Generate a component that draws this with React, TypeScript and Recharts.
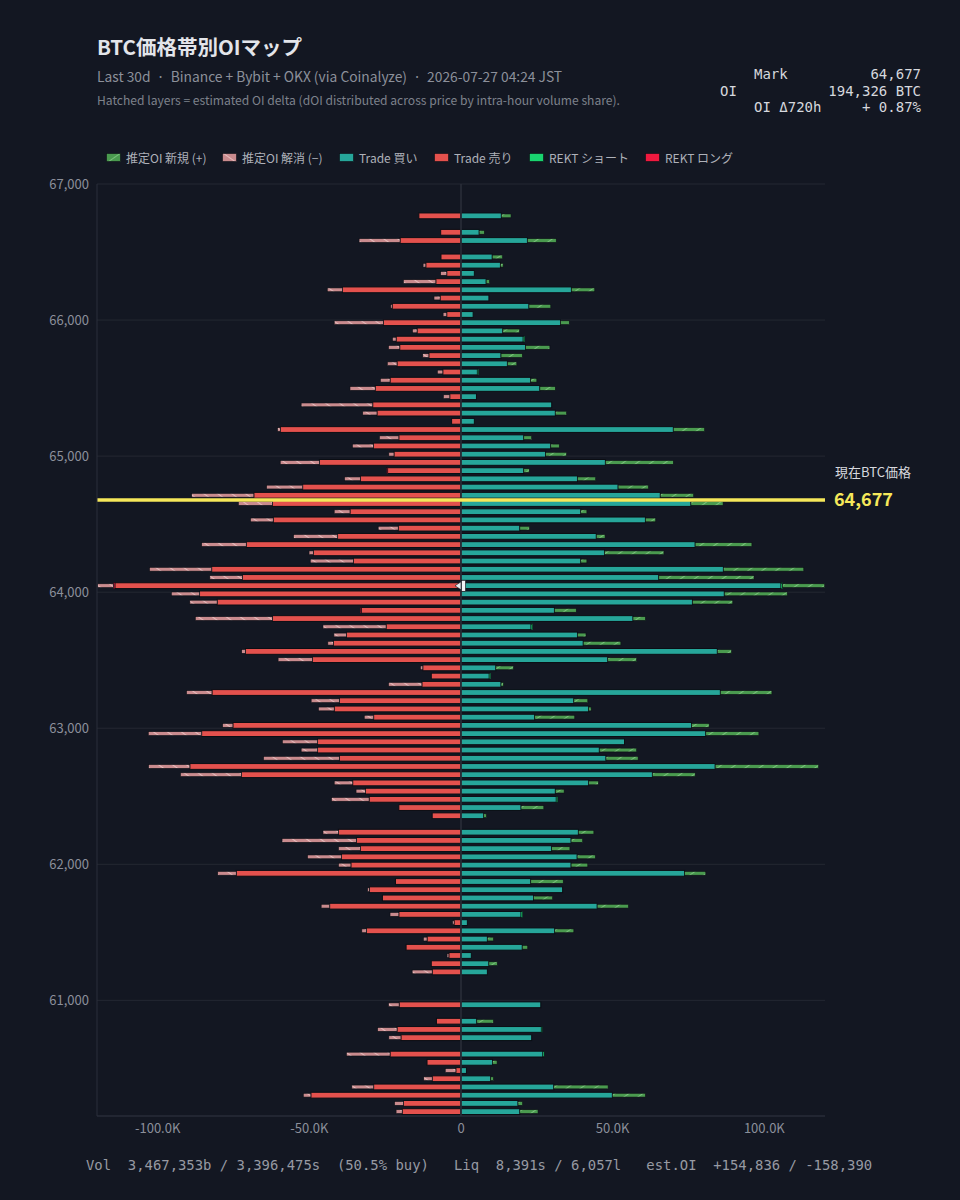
import React from 'react';
import { BarChart, Bar, XAxis, YAxis, CartesianGrid, ReferenceLine, ReferenceDot } from 'recharts';

// price bins, top row first
const PRICE_TOP = 66765;
const BIN_USD = 60.4;
const MARK_PRICE = 64677;
const POC_ROW = 45;

// per-bin volumes in thousands of BTC-equivalent units
const SELL_K = [
  13.9, 0, 6.7, 20.1, 0, 6.6, 11.6, 4.7, 8.3, 39.1,
  6.9, 22.7, 4.7, 25.6, 14.5, 21.4, 20.2, 10.6, 21.1, 6.0,
  23.4, 28.3, 3.7, 29.1, 27.7, 3.1, 59.6, 20.5, 28.9, 22.1,
  46.7, 24.2, 33.2, 52.2, 68.3, 62.2, 36.6, 61.9, 20.7, 40.7,
  70.8, 48.7, 35.5, 82.2, 72.1, 114.1, 86.2, 80.4, 32.9, 62.2,
  24.7, 37.8, 42.1, 71.1, 49.0, 12.6, 9.8, 12.9, 82.1, 40.1,
  41.8, 28.8, 75.2, 85.5, 47.3, 47.3, 40.1, 89.4, 72.4, 35.7,
  31.5, 30.3, 20.5, 9.5, 0, 40.4, 34.5, 33.2, 39.4, 36.3,
  74.1, 21.6, 30.2, 25.9, 43.3, 20.5, 2.3, 31.2, 11.2, 18.1,
  4.0, 9.8, 9.5, 0, 0, 0, 20.4, 0, 8.1, 21.1,
  19.8, 0, 23.4, 11.2, 1.7, 9.5, 28.8, 49.5, 19.0, 19.4,
];

const UNWIND_K = [
  0, 0, 0, 13.5, 0, 0, 0.9, 2.0, 10.7, 5.0,
  2.0, 0.5, 1.2, 16.2, 1.5, 1.2, 3.7, 2.0, 3.2, 1.8,
  3.2, 8.3, 2.1, 23.6, 4.7, 0, 0.9, 6.4, 6.9, 1.7,
  12.9, 0, 5.2, 11.9, 20.5, 11.2, 5.2, 7.5, 6.6, 14.5,
  14.7, 1.4, 14.2, 20.5, 10.7, 5.2, 9.3, 9.0, 0, 25.4,
  20.8, 4.1, 1.8, 1.2, 11.3, 0.8, 0, 11.0, 8.4, 9.3,
  5.2, 3.1, 3.4, 17.6, 11.6, 5.4, 25.0, 13.6, 20.1, 6.1,
  3.1, 12.4, 0, 0, 0, 5.1, 24.5, 7.2, 11.2, 4.1,
  6.1, 0, 0.6, 0, 2.8, 2.9, 0.5, 1.5, 1.2, 0,
  0.6, 0, 6.6, 0, 0, 0, 3.5, 0, 0, 6.4,
  4.0, 0, 14.4, 0, 3.5, 2.8, 7.2, 2.5, 2.9, 2.0,
];

const BUY_K = [
  13.3, 0, 6.0, 21.9, 0, 10.3, 13.0, 4.4, 8.3, 36.4,
  9.2, 22.4, 4.0, 32.8, 13.8, 20.5, 21.3, 13.2, 15.3, 5.4,
  23.0, 26.0, 5.1, 29.9, 31.1, 4.4, 70.0, 20.7, 29.6, 27.9,
  47.6, 20.7, 38.4, 51.8, 65.7, 75.8, 39.5, 60.8, 19.4, 44.6,
  77.2, 47.3, 39.5, 86.5, 65.2, 105.5, 86.8, 76.3, 30.8, 56.7,
  23.1, 38.4, 40.3, 84.5, 48.4, 11.5, 9.3, 13.2, 85.5, 37.2,
  42.1, 24.3, 76.0, 80.7, 53.9, 45.6, 47.8, 83.8, 63.1, 42.1,
  31.1, 31.4, 19.8, 7.5, 0, 38.7, 36.3, 29.9, 38.3, 36.3,
  73.7, 23.0, 33.5, 23.9, 44.9, 19.8, 2.1, 30.9, 8.7, 20.2,
  3.4, 9.2, 8.7, 0, 0, 0, 26.3, 0, 5.2, 26.5,
  23.3, 0, 27.0, 10.4, 1.8, 9.8, 30.6, 49.9, 18.8, 19.4,
];

const NEW_OI_K = [
  3.2, 0, 1.7, 9.5, 0, 3.4, 0.9, 0, 1.1, 7.7,
  0, 7.2, 0, 2.9, 5.5, 0, 8.0, 7.0, 3.1, 0,
  2.0, 5.1, 0, 0, 3.7, 0, 10.3, 2.6, 2.8, 6.9,
  22.4, 1.8, 6.0, 10.0, 11.0, 10.6, 2.0, 3.4, 3.2, 2.9,
  18.7, 19.6, 2.0, 26.5, 31.4, 13.9, 20.8, 13.3, 7.2, 4.1,
  0, 2.8, 12.4, 4.7, 9.5, 5.8, 0, 0.8, 17.0, 4.6,
  0.8, 13.2, 5.8, 17.5, 0, 12.3, 10.6, 34.1, 14.1, 3.2,
  2.9, 0, 7.5, 0.9, 0, 5.1, 3.8, 6.0, 6.0, 5.5,
  7.0, 10.7, 0, 6.3, 10.3, 0, 0, 6.3, 2.0, 1.8,
  0, 2.8, 0, 0, 0, 0, 0, 0, 5.5, 0,
  0, 0, 0, 1.5, 0, 0.9, 17.9, 10.9, 1.5, 6.0,
];

// liquidations, only the bins that have any
const REKT_SHORT_K: Record<number, number> = { 15: 0.5, 19: 0.4, 45: 0.5, 50: 0.5, 56: 0.5, 71: 0.5, 85: 0.5, 99: 0.3, 102: 0.4 };
const REKT_LONG_K: Record<number, number> = { 31: 0.3, 45: 0.5, 48: 0.3 };

const X_TICKS = [-100000, -50000, 0, 50000, 100000];
const Y_TICKS = [61000, 62000, 63000, 64000, 65000, 66000, 67000];

const C = {
  bg: '#131722',
  buy: '#26a69a',
  sell: '#e4514d',
  rektShort: '#19d46f',
  rektLong: '#f0193f',
  grid: '#242832',
  axis: '#2b2f3a',
  tick: '#8b8f9a',
  outline: '#0b0e14',
  mark: '#f6e85a',
};

const rows = SELL_K.map((s, i) => ({
  price: PRICE_TOP - i * BIN_USD,
  sell: -s * 1000,
  buy: BUY_K[i] * 1000,
  rektLong: -(REKT_LONG_K[i] ?? 0) * 1000,
  rektShort: (REKT_SHORT_K[i] ?? 0) * 1000,
  unwind: -UNWIND_K[i] * 1000,
  newOi: NEW_OI_K[i] * 1000,
}));

const LEGEND = [
  { label: '推定OI 新規 (+)', fill: 'url(#hatchNew)', x: 106 },
  { label: '推定OI 解消 (−)', fill: 'url(#hatchUnwind)', x: 222 },
  { label: 'Trade 買い', fill: C.buy, x: 339 },
  { label: 'Trade 売り', fill: C.sell, x: 434 },
  { label: 'REKT ショート', fill: C.rektShort, x: 529 },
  { label: 'REKT ロング', fill: C.rektLong, x: 645 },
];

const STATS = [
  { label: 'Mark', left: 754, value: '64,677' },
  { label: 'OI', left: 720, value: '194,326 BTC' },
  { label: 'OI Δ720h', left: 754, value: '+ 0.87%' },
];

const FOOTER = 'Vol  3,467,353b / 3,396,475s  (50.5% buy)   Liq  8,391s / 6,057l   est.OI  +154,836 / -158,390';

const SANS = "'Noto Sans CJK JP', 'Noto Sans', sans-serif";
const MONO = "'DejaVu Sans Mono', monospace";

// horizontal bar drawn as a centred strip of given thickness
const strip = (fill: string, thick: number, strokeW: number) => (p: any) => {
  const { x, y, width, height } = p;
  if (!width || Math.abs(width) < 0.01) return <g />;
  const x0 = width < 0 ? x + width : x;
  const w = Math.abs(width);
  const cy = y + height / 2;
  return (
    <rect x={x0} y={cy - thick / 2} width={w} height={thick} fill={fill} stroke={C.outline} strokeWidth={strokeW} />
  );
};

const fmtK = (v: number) => (v === 0 ? '0' : `${(v / 1000).toFixed(1)}K`);
const fmtPrice = (v: number) => v.toLocaleString('en-US');

function MarkLabel(props: any) {
  const vb = props.viewBox || {};
  const right = (vb.x ?? 0) + (vb.width ?? 0);
  const y = vb.y ?? 0;
  return (
    <g>
      <text x={right + 10} y={y - 23} fill="#d6d8de" fontSize={13} fontFamily={SANS}>
        現在BTC価格
      </text>
      <text x={right + 9} y={y + 6} fill={C.mark} fontSize={18} fontWeight={700} fontFamily={SANS}>
        {MARK_PRICE.toLocaleString('en-US')}
      </text>
    </g>
  );
}

const pocMarker = (p: any) => {
  const { cx, cy } = p;
  return (
    <g>
      <polygon
        points={`${cx - 6},${cy} ${cx},${cy - 4} ${cx},${cy + 4}`}
        fill="#e8eaee"
        stroke={C.outline}
        strokeWidth={0.6}
      />
      <rect x={cx + 0.5} y={cy - 5.5} width={4} height={11} fill="#f2f3f5" stroke={C.outline} strokeWidth={0.6} />
    </g>
  );
};

export default function App() {
  return (
    <div
      style={{
        position: 'absolute',
        left: 0,
        top: 0,
        width: 960,
        height: 1200,
        background: C.bg,
        fontFamily: SANS,
        overflow: 'hidden',
      }}
    >
      <svg width={0} height={0} style={{ position: 'absolute' }}>
        <defs>
          <pattern id="hatchNew" width="8" height="8" patternUnits="userSpaceOnUse" patternTransform="rotate(55)">
            <rect width="8" height="8" fill="#4a9a4f" />
            <line x1="0" y1="0" x2="0" y2="8" stroke="#8fd28f" strokeWidth="1.4" />
          </pattern>
          <pattern id="hatchUnwind" width="8" height="8" patternUnits="userSpaceOnUse" patternTransform="rotate(-55)">
            <rect width="8" height="8" fill="#c98b8e" />
            <line x1="0" y1="0" x2="0" y2="8" stroke="#f3d2d2" strokeWidth="1.4" />
          </pattern>
        </defs>
      </svg>

      <div style={{ position: 'absolute', left: 97, top: 33, fontSize: 20.5, fontWeight: 700, color: '#e3e5ea', lineHeight: '26px' }}>
        BTC価格帯別OIマップ
      </div>
      <div style={{ position: 'absolute', left: 97, top: 66, fontSize: 13.8, color: '#8c909a', lineHeight: '20px', whiteSpace: 'pre' }}>
        {'Last 30d  ·  Binance + Bybit + OKX (via Coinalyze)  ·  2026-07-27 04:24 JST'}
      </div>
      <div style={{ position: 'absolute', left: 97, top: 91, fontSize: 12.1, color: '#7e828c', lineHeight: '18px' }}>
        Hatched layers = estimated OI delta (dOI distributed across price by intra-hour volume share).
      </div>

      {STATS.map((s, i) => (
        <React.Fragment key={s.label}>
          <div style={{ position: 'absolute', left: s.left, top: 66 + i * 16.5, fontFamily: MONO, fontSize: 14, color: '#d6d8de', lineHeight: '17px' }}>
            {s.label}
          </div>
          <div style={{ position: 'absolute', right: 39, top: 66 + i * 16.5, fontFamily: MONO, fontSize: 14, color: '#d6d8de', lineHeight: '17px', whiteSpace: 'pre' }}>
            {s.value}
          </div>
        </React.Fragment>
      ))}

      {LEGEND.map((l) => (
        <div key={l.label} style={{ position: 'absolute', left: l.x, top: 149, height: 16, display: 'flex', alignItems: 'center' }}>
          <svg width={15} height={9} style={{ marginRight: 5 }}>
            <rect x={0.5} y={0.5} width={14} height={8} fill={l.fill} stroke={C.outline} strokeWidth={0.6} />
          </svg>
          <span style={{ fontSize: 12, color: '#aeb1b9', whiteSpace: 'pre' }}>{l.label}</span>
        </div>
      ))}

      <div style={{ position: 'absolute', left: 0, top: 0 }}>
        <BarChart
          width={960}
          height={1200}
          data={rows}
          layout="vertical"
          stackOffset="sign"
          barSize={8}
          margin={{ top: 184, right: 135, bottom: 54, left: 37 }}
        >
          <CartesianGrid horizontal vertical={false} stroke={C.grid} />
          <XAxis
            type="number"
            domain={[-120000, 120000]}
            ticks={X_TICKS}
            tickFormatter={fmtK}
            allowDataOverflow
            height={30}
            axisLine={{ stroke: C.axis }}
            tickLine={false}
            tick={{ fill: C.tick, fontSize: 13 }}
          />
          <YAxis
            type="number"
            dataKey="price"
            domain={[60150, 67000]}
            ticks={Y_TICKS}
            tickFormatter={fmtPrice}
            reversed
            allowDataOverflow
            width={60}
            axisLine={{ stroke: C.axis }}
            tickLine={false}
            tick={{ fill: C.tick, fontSize: 13 }}
          />
          <Bar dataKey="sell" stackId="oi" shape={strip(C.sell, 5.8, 1)} isAnimationActive={false} />
          <Bar dataKey="buy" stackId="oi" shape={strip(C.buy, 5.8, 1)} isAnimationActive={false} />
          <Bar dataKey="rektLong" stackId="oi" shape={strip(C.rektLong, 5.8, 0.5)} isAnimationActive={false} />
          <Bar dataKey="rektShort" stackId="oi" shape={strip(C.rektShort, 5.8, 0.5)} isAnimationActive={false} />
          <Bar dataKey="unwind" stackId="oi" shape={strip('url(#hatchUnwind)', 3.8, 0.6)} isAnimationActive={false} />
          <Bar dataKey="newOi" stackId="oi" shape={strip('url(#hatchNew)', 3.8, 0.6)} isAnimationActive={false} />
          <ReferenceLine x={0} stroke={C.axis} strokeWidth={1.5} />
          <ReferenceLine y={MARK_PRICE} stroke={C.mark} strokeWidth={3.5} label={<MarkLabel />} />
          <ReferenceDot x={0} y={rows[POC_ROW].price} ifOverflow="visible" shape={pocMarker} />
        </BarChart>
      </div>

      <div style={{ position: 'absolute', left: 86, top: 1156, fontFamily: MONO, fontSize: 13.9, color: '#979aa3', whiteSpace: 'pre', lineHeight: '18px' }}>
        {FOOTER}
      </div>
    </div>
  );
}
